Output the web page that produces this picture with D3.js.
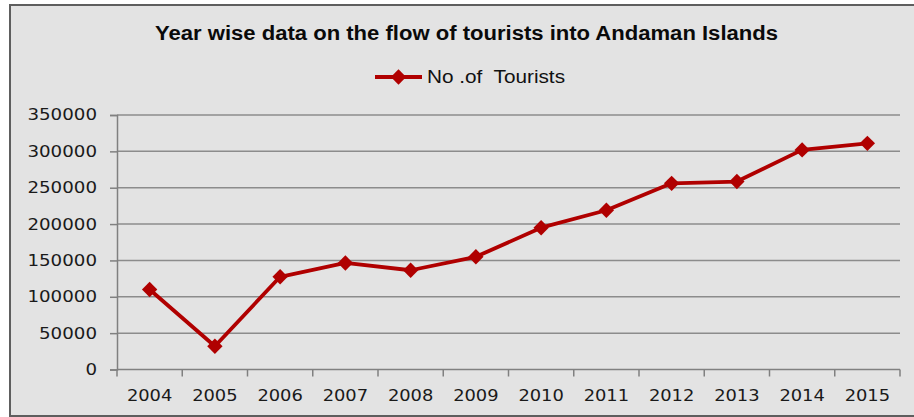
<!DOCTYPE html>
<html>
<head>
<meta charset="utf-8">
<script src="https://cdn.jsdelivr.net/npm/d3@7"></script>
<style>
  body { margin: 0; background: #ffffff; }
  svg { display: block; }
</style>
</head>
<body>
<svg width="914" height="417"></svg>
<script>
var years = ["2004", "2005", "2006", "2007", "2008", "2009", "2010", "2011", "2012", "2013", "2014", "2015"];
var tourists = [110000, 32000, 127500, 146500, 136500, 155000, 195000, 219000, 256000, 258500, 302000, 311000];
var yTicks = [0, 50000, 100000, 150000, 200000, 250000, 300000, 350000];
var seriesName = "No .of  Tourists";
var title = "Year wise data on the flow of tourists into Andaman Islands";

var svg = d3.select("svg"),
    width = +svg.attr("width"),
    height = +svg.attr("height");

var plotLeft = 117, plotRight = 900, plotTop = 115, plotBottom = 369.5;
var red = "#b00000";

// chart area background + frame
svg.append("rect")
    .attr("x", 10).attr("y", 5)
    .attr("width", 920).attr("height", 411)
    .attr("fill", "#e3e3e3")
    .attr("stroke", "#5e5e5e")
    .attr("stroke-width", 2);

var x = d3.scaleBand().domain(years).range([plotLeft, plotRight]);
var y = d3.scaleLinear().domain([0, 350000]).range([plotBottom, plotTop]);

// gridlines
svg.append("g")
  .selectAll("line")
  .data(yTicks.slice(1))
  .enter().append("line")
    .attr("x1", plotLeft).attr("x2", plotRight)
    .attr("y1", function(d) { return y(d); })
    .attr("y2", function(d) { return y(d); })
    .attr("stroke", "#8c8c8c")
    .attr("stroke-width", 1.5);

// y axis
var yAxis = svg.append("g")
    .attr("transform", "translate(" + plotLeft + ",0)")
    .call(d3.axisLeft(y).tickValues(yTicks).tickSize(7).tickPadding(13).tickFormat(d3.format("d")));

yAxis.select(".domain").attr("stroke", "#808080").attr("stroke-width", 1.5);
yAxis.selectAll(".tick line").attr("stroke", "#808080").attr("stroke-width", 1.5);
yAxis.selectAll(".tick text")
    .attr("font-family", "DejaVu Sans")
    .attr("font-size", "15.5px")
    .attr("fill", "#1a1a1a")
    .attr("textLength", function(d) { return String(d).length * 11.6; })
    .attr("lengthAdjust", "spacingAndGlyphs");

// x axis
var xTickPos = years.map(function(d) { return x(d); }).concat([plotRight]);
var xAxisG = svg.append("g")
    .attr("transform", "translate(0," + plotBottom + ")");
xAxisG.append("line")
    .attr("x1", plotLeft).attr("x2", plotRight)
    .attr("stroke", "#808080").attr("stroke-width", 1.5);
xAxisG.selectAll("line.tick")
    .data(xTickPos)
  .enter().append("line")
    .attr("class", "tick")
    .attr("x1", function(d) { return d; }).attr("x2", function(d) { return d; })
    .attr("y1", 0).attr("y2", 7)
    .attr("stroke", "#808080").attr("stroke-width", 1.5);
xAxisG.selectAll("text")
    .data(years)
  .enter().append("text")
    .attr("x", function(d) { return x(d) + x.bandwidth() / 2; })
    .attr("y", 31.5)
    .attr("text-anchor", "middle")
    .attr("font-family", "DejaVu Sans")
    .attr("font-size", "15.5px")
    .attr("fill", "#1a1a1a")
    .attr("textLength", 45.5)
    .attr("lengthAdjust", "spacingAndGlyphs")
    .text(function(d) { return d; });

// line
var line = d3.line()
    .x(function(d, i) { return x(years[i]) + x.bandwidth() / 2; })
    .y(function(d) { return y(d); });

svg.append("path")
    .datum(tourists)
    .attr("d", line)
    .attr("fill", "none")
    .attr("stroke", red)
    .attr("stroke-width", 3.8)
    .attr("stroke-linejoin", "round");

var diamond = d3.symbol().type(d3.symbolDiamond2).size(150);

svg.append("g")
  .selectAll("path")
  .data(tourists)
  .enter().append("path")
    .attr("d", diamond)
    .attr("transform", function(d, i) {
        return "translate(" + (x(years[i]) + x.bandwidth() / 2) + "," + y(d) + ")";
    })
    .attr("fill", red);

// title
svg.append("text")
    .attr("x", 466.5).attr("y", 40)
    .attr("text-anchor", "middle")
    .attr("font-family", "Liberation Sans Narrow, Liberation Sans")
    .attr("font-weight", "bold")
    .attr("font-size", "20px")
    .attr("fill", "#0a0a0a")
    .attr("textLength", 623)
    .attr("lengthAdjust", "spacingAndGlyphs")
    .text(title);

// legend
svg.append("line")
    .attr("x1", 375).attr("x2", 422)
    .attr("y1", 77).attr("y2", 77)
    .attr("stroke", red).attr("stroke-width", 3.8);
svg.append("path")
    .attr("d", diamond)
    .attr("transform", "translate(398.5,77)")
    .attr("fill", red);
svg.append("text")
    .attr("x", 427).attr("y", 83)
    .attr("font-family", "Liberation Sans Narrow, Liberation Sans")
    .attr("font-size", "17.5px")
    .attr("fill", "#111")
    .attr("textLength", 138)
    .attr("lengthAdjust", "spacingAndGlyphs")
    .style("white-space", "pre")
    .text(seriesName);
</script>
</body>
</html>
